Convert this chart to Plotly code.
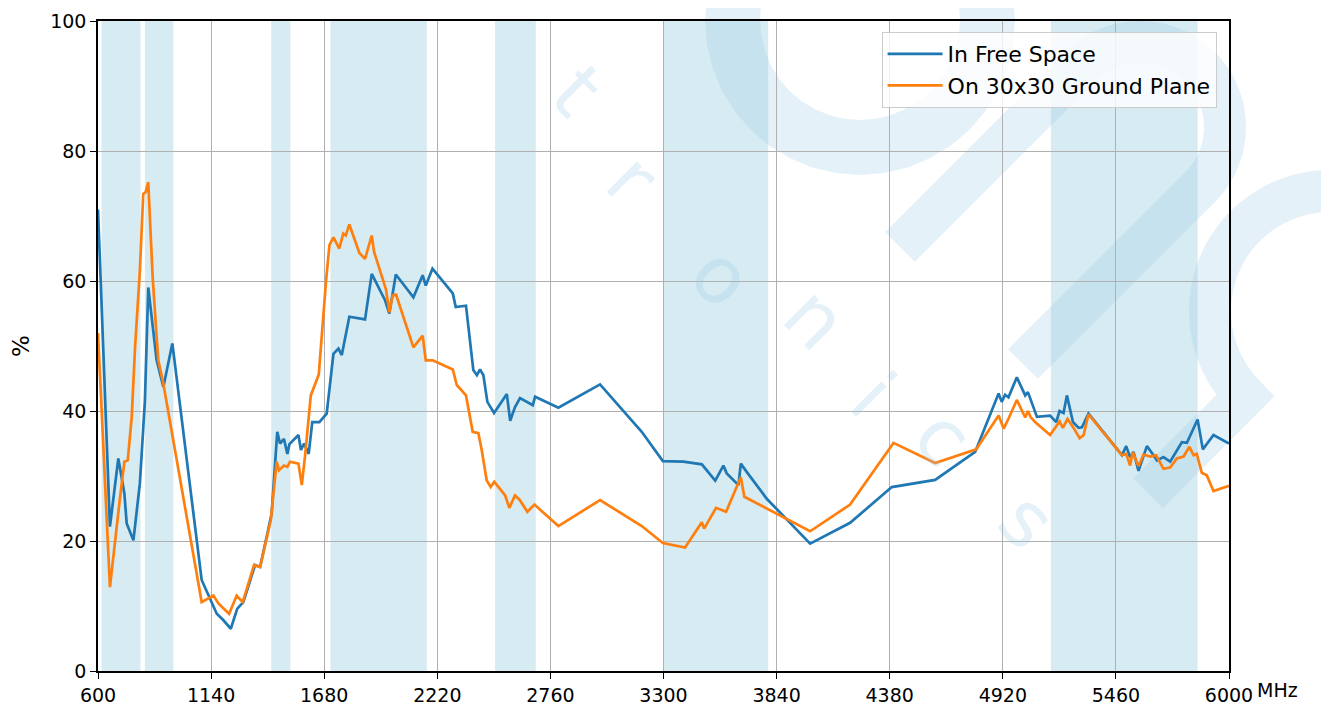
import math
import plotly.graph_objects as go

# frequency bands shaded in the background (MHz)
BAND_START = [617, 824, 1427, 1710, 2496, 3300, 5150]
BAND_END = [803, 960, 1518, 2170, 2690, 3800, 5850]

# In Free Space
FS_FREQ = [600, 657, 697, 726, 737, 769, 800, 824, 840, 880, 912, 955, 1095, 1167, 1199, 1234,
           1265, 1294, 1350, 1374, 1429, 1456, 1469, 1488, 1504, 1514, 1557, 1569, 1584, 1606,
           1623, 1657, 1692, 1724, 1748, 1764, 1800, 1875, 1907, 1971, 1991, 2022, 2106, 2150,
           2165, 2197, 2294, 2308, 2357, 2392, 2409, 2424, 2440, 2459, 2491, 2552, 2568, 2591,
           2615, 2676, 2687, 2798, 2997, 3196, 3297, 3395, 3483, 3547, 3586, 3602, 3658, 3669,
           3698, 3793, 4000, 4191, 4390, 4597, 4788, 4900, 4915, 4931, 4947, 4987, 5027, 5040,
           5083, 5146, 5175, 5191, 5210, 5226, 5255, 5282, 5298, 5329, 5489, 5509, 5528, 5544,
           5568, 5608, 5640, 5656, 5687, 5719, 5775, 5799, 5850, 5875, 5926, 6000]
FS_EFF = [71, 22.2, 32.7, 27.3, 22.7, 20.1, 28.9, 41.6, 59, 47.8, 43.7, 50.4, 14, 8.8, 7.8, 6.5,
          9.6, 10.6, 16.3, 16, 24.2, 36.8, 35, 35.7, 33.4, 34.9, 36.3, 34, 35, 33.4,
          38.3, 38.3, 39.6, 48.8, 49.6, 48.6, 54.5, 54.1, 61.1, 57, 55, 61, 57.5, 60.9,
          59.3, 61.9, 58.1, 56, 56.2, 46.3, 45.5, 46.4, 45.5, 41.4, 39.7, 42.6, 38.5, 40.6,
          42, 40.9, 42.2, 40.5, 44.1, 36.8, 32.3, 32.2, 31.8, 29.3, 31.6, 30.4, 28.6, 31.9,
          30.6, 26.5, 19.6, 22.8, 28.3, 29.4, 33.7, 42.7, 41.4, 42.5, 42.1, 45.2, 42.4, 42.9,
          39.1, 39.3, 38.3, 40, 39.7, 42.4, 38.3, 37.4, 37.5, 39.6, 33.2, 34.6, 32.9, 33.7,
          30.8, 34.6, 33.2, 32.4, 32.9, 32.2, 35.2, 35.1, 38.7, 34.1, 36.3, 35]

# On 30x30 Ground Plane
GP_FREQ = [600, 657, 702, 726, 742, 761, 777, 800, 816, 828, 840, 861, 880, 888, 912, 1095, 1151,
           1175, 1226, 1262, 1291, 1345, 1374, 1425, 1453, 1464, 1488, 1504, 1517, 1557, 1573,
           1589, 1616, 1654, 1689, 1705, 1724, 1752, 1771, 1783, 1800, 1848, 1875, 1907, 1918,
           1975, 1991, 2007, 2023, 2106, 2150, 2165, 2198, 2294, 2313, 2357, 2389, 2416, 2432,
           2456, 2475, 2492, 2544, 2564, 2591, 2612, 2650, 2684, 2798, 2997, 3196, 3297, 3403,
           3483, 3494, 3551, 3599, 3669, 3686, 4000, 4191, 4398, 4597, 4793, 4900, 4924, 4947,
           4987, 5027, 5040, 5052, 5074, 5146, 5191, 5207, 5229, 5258, 5287, 5306, 5329, 5489,
           5509, 5528, 5540, 5568, 5592, 5624, 5652, 5687, 5719, 5751, 5783, 5811, 5831, 5846,
           5870, 5894, 5926, 6000]
GP_EFF = [52, 12.9, 25.8, 32.2, 32.4, 39.1, 49.8, 61.6, 73.4, 73.7, 75.2, 60.6, 51.4, 47.8, 44.2,
          10.6, 11.6, 10.4, 8.8, 11.6, 10.6, 16.3, 16, 23.2, 32.2, 30.9, 31.6, 31.4, 32.2, 31.9,
          28.6, 33.2, 42.4, 45.6, 60.1, 65.5, 66.7, 65, 67.3, 67, 68.7, 64.3, 63.4, 67, 64.5,
          58.7, 55.2, 57.8, 57.9, 49.8, 51.6, 47.8, 47.8, 46.4, 44, 42.4, 36.8, 36.6, 34,
          29.3, 28.3, 29.1, 27, 25.1, 27, 26.4, 24.5, 25.6, 22.3, 26.3, 22.3, 19.7, 19,
          22.9, 21.9, 25.1, 24.5, 29.8, 26.8, 21.5, 25.6, 35.1, 32, 34.1, 39.3, 37.3, 38.8,
          41.7, 39, 40, 39.1, 38.3, 36.3, 38.4, 37.4, 38.8, 37.4, 35.8, 36.3, 39.5, 33.2,
          33.4, 31.6, 33.7, 31.5, 33.3, 33, 33.2, 31.1, 31.3, 32.7, 33, 34.5, 33.2, 33.4,
          30.5, 30.1, 27.7, 28.5]

X_TICKS = list(range(600, 6001, 540))

# page has an 8px body margin, so the figure is a bit smaller than the window
OFF = 8
W, H = 1321, 701
ML, MR, MT, MB = 90, 100, 13, 38
FONT = "DejaVu Sans"
WM = "rgba(150,200,230,0.25)"


def to_paper(x, y):
    # screen pixel -> paper coordinates (watermark only)
    return (x - OFF - ML) / (W - ML - MR), (OFF + H - MB - y) / (H - MT - MB)


def path_of(points, close=False):
    s = ""
    for i, (x, y) in enumerate(points):
        px, py = to_paper(x, y)
        s += ("M" if i == 0 else "L") + f"{px:.4f},{py:.4f} "
    return s + ("Z" if close else "")


def arc(cx, cy, r, a0, a1, n=40):
    return [(cx + r * math.cos(math.radians(a0 + (a1 - a0) * k / n)),
             cy + r * math.sin(math.radians(a0 + (a1 - a0) * k / n))) for k in range(n + 1)]


fig = go.Figure()
fig.add_trace(go.Scatter(x=FS_FREQ, y=FS_EFF, mode="lines", name="In Free Space",
                         line=dict(color="#1f77b4", width=2.7)))
fig.add_trace(go.Scatter(x=GP_FREQ, y=GP_EFF, mode="lines", name="On 30x30 Ground Plane",
                         line=dict(color="#ff7f0e", width=2.7)))

for lo, hi in zip(BAND_START, BAND_END):
    fig.add_shape(type="rect", xref="x", yref="paper", x0=lo, x1=hi, y0=0, y1=1,
                  fillcolor="rgba(173,216,230,0.5)", line_width=0, layer="below")

# faint logo watermark
ring = arc(860, 20, 155, 0, 360) + arc(860, 20, 100, 360, 0)
fig.add_shape(type="path", path=path_of(ring, True), xref="paper", yref="paper",
              fillcolor=WM, line_width=0, layer="below")
n_shape = [(900, 247)] + arc(1140, 127, 85, 225, 405) + [(1023, 364)]
fig.add_shape(type="path", path=path_of(n_shape), xref="paper", yref="paper",
              line=dict(color=WM, width=42), layer="below")
n2 = [(1148, 493)] + arc(1330, 311, 120, 135, 300)
fig.add_shape(type="path", path=path_of(n2), xref="paper", yref="paper",
              line=dict(color=WM, width=42), layer="below")

for ch, (x, y) in zip("tronics", [(577, 45), (632, 133), (722, 225), (815, 318),
                                   (915, 395), (993, 487), (1077, 570)]):
    px, py = to_paper(x, y)
    fig.add_annotation(text=ch, x=px, y=py, xref="paper", yref="paper", showarrow=False,
                       textangle=45, font=dict(family=FONT, size=78, color="rgba(150,200,230,0.25)"))

fig.add_annotation(text="MHz", x=1, y=0, xref="paper", yref="paper", xanchor="left",
                   yanchor="top", xshift=26, yshift=-6, showarrow=False,
                   font=dict(family=FONT, size=19, color="black"))

fig.update_layout(
    width=W, height=H,
    margin=dict(l=ML, r=MR, t=MT, b=MB),
    paper_bgcolor="white",
    plot_bgcolor="rgba(0,0,0,0)",
    font=dict(family=FONT, size=19, color="black"),
    showlegend=True,
    legend=dict(x=0.989, y=0.983, xanchor="right", yanchor="top", itemwidth=55,
                bgcolor="rgba(255,255,255,0.8)", bordercolor="#cccccc", borderwidth=1,
                font=dict(size=22)),
)
fig.update_xaxes(range=[600, 6000], tickvals=X_TICKS, showgrid=True, gridcolor="#b0b0b0",
                 gridwidth=1, showline=True, mirror=True, linecolor="black", linewidth=1.5,
                 ticks="outside", ticklen=6, tickcolor="black", zeroline=False,
                 automargin=False)
fig.update_yaxes(range=[0, 100], dtick=20, showgrid=True, gridcolor="#b0b0b0", gridwidth=1,
                 showline=True, mirror=True, linecolor="black", linewidth=1.5,
                 ticks="outside", ticklen=6, tickcolor="black", zeroline=False,
                 automargin=False, title=dict(text="%", standoff=22))

fig.write_html("out.html")
